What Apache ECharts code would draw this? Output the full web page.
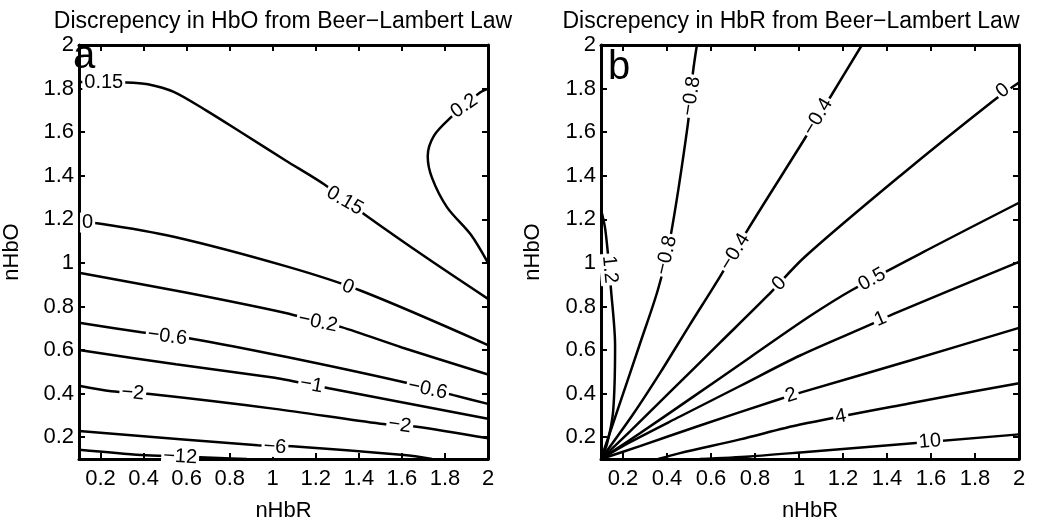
<!DOCTYPE html>
<html>
<head>
<meta charset="utf-8">
<script src="https://cdn.jsdelivr.net/npm/echarts@6/dist/echarts.min.js"></script>
<style>
  html, body { margin: 0; padding: 0; background: #fff; }
  #chart { width: 1050px; height: 527px; }
</style>
</head>
<body>
<div id="chart"></div>
<script>
// tick positions shared by both panels
const xTicks = [0.2, 0.4, 0.6, 0.8, 1, 1.2, 1.4, 1.6, 1.8, 2];
const yTicks = [0.2, 0.4, 0.6, 0.8, 1, 1.2, 1.4, 1.6, 1.8, 2];

// panel a: discrepancy in HbO, contour lines as [nHbR, nHbO]
const hboC015 = [[0.1, 1.83], [0.32, 1.828], [0.42, 1.82], [0.54, 1.785], [0.69, 1.70], [0.86, 1.595], [1.06, 1.47], [1.24, 1.36], [1.43, 1.22], [1.72, 1.02], [2.0, 0.835]];
const hboC02 = [[2.0, 1.80], [1.96, 1.78], [1.89, 1.72], [1.83, 1.67], [1.75, 1.585], [1.72, 1.49], [1.74, 1.39], [1.81, 1.255], [1.92, 1.13], [2.0, 1.0]];
const hboC0 = [[0.1, 1.185], [0.2, 1.18], [0.54, 1.12], [1.06, 0.985], [1.41, 0.872], [2.0, 0.623]];
const hboCm02 = [[0.1, 0.955], [0.59, 0.865], [1.06, 0.77], [1.21, 0.73], [1.32, 0.705], [1.6, 0.612], [2.0, 0.488]];
const hboCm06 = [[0.1, 0.725], [0.39, 0.682], [0.63, 0.651], [1.06, 0.569], [1.61, 0.452], [1.84, 0.393], [2.0, 0.353]];
const hboCm1 = [[0.1, 0.6], [0.55, 0.535], [1.01, 0.473], [1.10, 0.456], [1.26, 0.425], [2.0, 0.285]];
const hboCm2 = [[0.1, 0.436], [0.25, 0.411], [0.43, 0.398], [1.01, 0.33], [1.5, 0.262], [1.66, 0.249], [2.0, 0.195]];
const hboCm6 = [[0.1, 0.228], [0.93, 0.163], [1.09, 0.159], [1.61, 0.118], [1.74, 0.1]];
const hboCm12 = [[0.1, 0.142], [0.39, 0.118], [0.57, 0.112], [0.75, 0.105], [0.88, 0.1]];
// contour labels: [text, nHbR, nHbO]
const hboLabels = [
  ["0.15", 0.215, 1.83], ["0.15", 1.335, 1.285], ["0.2", 1.89, 1.72],
  ["0", 0.14, 1.185], ["0", 1.35, 0.89], ["−0.2", 1.21, 0.728],
  ["−0.6", 0.51, 0.662], ["−0.6", 1.72, 0.42], ["−1", 1.18, 0.44],
  ["−2", 0.35, 0.403], ["−2", 1.59, 0.255], ["−6", 1.01, 0.155], ["−12", 0.57, 0.11]
];
const hboLabelAngles = [0, -30, 35, 0, -22, -12, -7, -12, -10, -5, -8, -4, -3];

// panel b: discrepancy in HbR
const hbrC12 = [[0.1, 1.245], [0.118, 1.163], [0.132, 1.037], [0.145, 0.883], [0.164, 0.62], [0.155, 0.317], [0.127, 0.168], [0.1, 0.1]];
const hbrCm08 = [[0.536, 2.0], [0.518, 1.874], [0.495, 1.638], [0.414, 1.109], [0.359, 0.878], [0.277, 0.629], [0.191, 0.371], [0.1, 0.1]];
const hbrCm04 = [[1.286, 2.0], [1.15, 1.774], [1.018, 1.557], [0.768, 1.154], [0.641, 0.937], [0.50, 0.71], [0.368, 0.494], [0.245, 0.304], [0.1, 0.1]];
const hbrC0 = [[2.0, 1.828], [1.882, 1.743], [1.459, 1.399], [1.027, 1.028], [0.855, 0.847], [0.641, 0.634], [0.414, 0.408], [0.232, 0.227], [0.1, 0.1]];
const hbrC05 = [[2.0, 1.276], [1.609, 1.073], [1.245, 0.878], [1.05, 0.756], [0.777, 0.566], [0.505, 0.376], [0.277, 0.218], [0.1, 0.1]];
const hbrC1 = [[2.0, 1.005], [1.427, 0.765], [1.332, 0.72], [1.005, 0.575], [0.732, 0.435], [0.459, 0.295], [0.232, 0.177], [0.1, 0.1]];
const hbrC2 = [[2.0, 0.702], [1.505, 0.552], [1.018, 0.408], [0.9, 0.371], [0.55, 0.254], [0.277, 0.159], [0.1, 0.1]];
const hbrC4 = [[2.0, 0.448], [1.5, 0.355], [1.005, 0.258], [0.732, 0.19], [0.459, 0.127], [0.36, 0.1]];
const hbrC10 = [[2.0, 0.213], [1.005, 0.13], [0.777, 0.112], [0.55, 0.1]];
const hbrLabels = [
  ["−0.8", 0.51, 1.765], ["−0.8", 0.397, 1.035], ["−0.4", 1.086, 1.67],
  ["−0.4", 0.709, 1.05], ["0", 1.927, 1.79], ["0", 0.91, 0.905],
  ["0.5", 1.332, 0.924], ["1", 1.37, 0.742], ["2", 0.965, 0.392],
  ["4", 1.19, 0.295], ["10", 1.595, 0.18], ["1.2", 0.14, 0.97]
];
const hbrLabelAngles = [81, 77, 59, 58, 39, 45, 29, 23, 17, 10, 5, -85];

const FONT = "'Liberation Sans', Arial, sans-serif";
const chart = echarts.init(document.getElementById("chart"), null, { renderer: "canvas" });

// bottom/left axes carry labels, top/right only mirror the inward ticks
function xAxes(grid, name) {
  const base = {
    type: "value", gridIndex: grid, min: 0.1, max: 2,
    axisLine: { lineStyle: { color: "#000", width: 3 } },
    axisTick: { inside: true, length: 6, customValues: xTicks, lineStyle: { color: "#000", width: 2 } },
    splitLine: { show: false }
  };
  return [
    Object.assign({}, base, {
      position: "bottom", name: name, nameLocation: "middle", nameGap: 41,
      nameTextStyle: { fontSize: 22, color: "#000", fontFamily: FONT },
      axisLabel: { customValues: xTicks, fontSize: 22, color: "#000", margin: 9, fontFamily: FONT }
    }),
    Object.assign({}, base, { position: "top", axisLabel: { show: false } })
  ];
}
function yAxes(grid, name, gap) {
  const base = {
    type: "value", gridIndex: grid, min: 0.1, max: 2,
    axisLine: { lineStyle: { color: "#000", width: 3 } },
    axisTick: { inside: true, length: 6, customValues: yTicks, lineStyle: { color: "#000", width: 2 } },
    splitLine: { show: false }
  };
  return [
    Object.assign({}, base, {
      position: "left", name: name, nameLocation: "middle", nameGap: gap,
      nameTextStyle: { fontSize: 22, color: "#000", fontFamily: FONT },
      axisLabel: { customValues: yTicks, fontSize: 22, color: "#000", margin: 5, fontFamily: FONT }
    }),
    Object.assign({}, base, { position: "right", axisLabel: { show: false } })
  ];
}

function contour(data, ax) {
  return {
    type: "line", xAxisIndex: ax, yAxisIndex: ax, data: data,
    symbol: "none", smooth: 0.3, silent: true, z: 2,
    lineStyle: { color: "#000", width: 2.5 }
  };
}
// scatter defaults to 0.8 opacity, so force it back to solid
function labelSeries(labels, angles, ax) {
  return {
    type: "scatter", xAxisIndex: ax, yAxisIndex: ax, symbolSize: 1, silent: true, z: 5,
    itemStyle: { color: "#fff", opacity: 1 },
    label: {
      show: true, position: "inside", formatter: "{b}", fontSize: 20, color: "#000", opacity: 1,
      fontFamily: FONT, backgroundColor: "#fff", padding: [0, 2],
      textBorderWidth: 0, textBorderColor: "transparent"
    },
    data: labels.map((l, i) => ({ name: l[0], value: [l[1], l[2]], label: { rotate: angles[i] } }))
  };
}

const option = {
  animation: false,
  backgroundColor: "#fff",
  grid: [
    { left: 69, top: 45, width: 419, height: 421 },
    { left: 601, top: 45, width: 418, height: 420 }
  ],
  xAxis: xAxes(0, "nHbR").concat(xAxes(1, "nHbR")),
  yAxis: yAxes(0, "nHbO", 56).concat(yAxes(1, "nHbO", 57)),
  graphic: [
    { type: "text", x: 283, y: 22, style: { text: "Discrepency in HbO from Beer−Lambert Law", fontSize: 23, fontFamily: FONT, fill: "#000", align: "center", verticalAlign: "middle" } },
    { type: "text", x: 791, y: 22, style: { text: "Discrepency in HbR from Beer−Lambert Law", fontSize: 23, fontFamily: FONT, fill: "#000", align: "center", verticalAlign: "middle" } },
    { type: "text", x: 73, y: 77, z: 10, style: { text: "a", fontSize: 40, fontFamily: FONT, fill: "#000", align: "left", verticalAlign: "bottom" } },
    { type: "text", x: 608, y: 88, z: 10, style: { text: "b", fontSize: 40, fontFamily: FONT, fill: "#000", align: "left", verticalAlign: "bottom" } }
  ],
  series: [
    contour(hboC015, 0), contour(hboC02, 0), contour(hboC0, 0), contour(hboCm02, 0),
    contour(hboCm06, 0), contour(hboCm1, 0), contour(hboCm2, 0), contour(hboCm6, 0), contour(hboCm12, 0),
    labelSeries(hboLabels, hboLabelAngles, 0),
    contour(hbrC12, 2), contour(hbrCm08, 2), contour(hbrCm04, 2), contour(hbrC0, 2), contour(hbrC05, 2),
    contour(hbrC1, 2), contour(hbrC2, 2), contour(hbrC4, 2), contour(hbrC10, 2),
    labelSeries(hbrLabels, hbrLabelAngles, 2)
  ]
};
chart.setOption(option);
</script>
</body>
</html>
